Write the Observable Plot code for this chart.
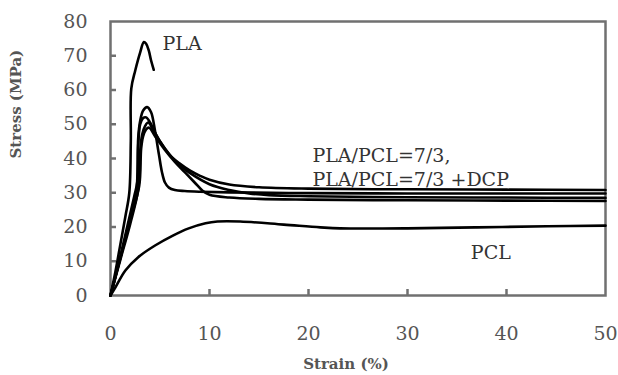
<!DOCTYPE html>
<html>
<head>
<meta charset="utf-8">
<script src="https://cdn.jsdelivr.net/npm/d3@7"></script>
<script src="https://cdn.jsdelivr.net/npm/@observablehq/plot@0.6"></script>
<style>
  html, body { margin: 0; padding: 0; background: #fff; }
  #chart { width: 618px; height: 375px; }
</style>
</head>
<body>
<div id="chart"></div>
<script>
// ---- Data ----
const xTicks = [0, 10, 20, 30, 40, 50];
const yTicks = [0, 10, 20, 30, 40, 50, 60, 70, 80];

const plaStrain = [0, 0.5, 1.0, 1.5, 1.9, 2.05, 2.1, 2.5, 3.0, 3.37, 3.6, 3.87, 4.1, 4.37];
const plaStress = [0, 7, 15, 23, 30, 45, 60.4, 65.7, 71, 74, 73.5, 71.5, 68.6, 65.9];

const b1Strain = [0, 0.8, 1.6, 2.4, 2.7, 2.8, 3.0, 3.3, 3.7, 4.1, 4.5, 4.9, 5.2, 5.5, 5.9, 6.5, 7.5, 9, 12, 20, 30, 40, 50];
const b1Stress = [0, 9, 19, 29, 33, 46, 51, 54, 55, 53.5, 48, 41, 36, 33, 31.5, 30.8, 30.5, 30.3, 30.1, 29.9, 29.8, 29.8, 29.8];

const b2Strain = [0, 0.9, 1.8, 2.6, 2.8, 3.0, 3.3, 3.6, 4.0, 4.5, 5, 6, 7, 8, 9, 10, 12, 15, 20, 30, 40, 50];
const b2Stress = [0, 10, 20, 30, 44, 50, 51.8, 52, 50.5, 47.5, 45, 41, 38.5, 36.5, 35, 33.8, 32.4, 31.6, 31.2, 31, 30.9, 30.8];

const b3Strain = [0, 1.0, 2.0, 2.8, 3.0, 3.2, 3.5, 3.8, 4.3, 5, 6, 7, 8, 10, 12, 14, 16, 20, 30, 40, 50];
const b3Stress = [0, 10.5, 21, 31, 42, 47, 49.5, 50.5, 48.5, 45, 41, 38, 35.8, 32.5, 30.8, 29.8, 29.3, 29, 28.7, 28.6, 28.5];

const b4Strain = [0, 1.0, 2.0, 2.9, 3.1, 3.3, 3.6, 3.9, 4.5, 5.5, 6.5, 7.5, 8.5, 9.3, 10, 12, 15, 20, 30, 40, 50];
const b4Stress = [0, 11, 22, 32, 43, 46.5, 48.5, 49, 46.5, 42.5, 39, 36, 33, 30.6, 29.4, 28.6, 28.2, 28, 27.8, 27.7, 27.6];

const pclStrain = [0, 0.5, 1.5, 2.8, 4.5, 6.3, 7.9, 9.6, 10.8, 13.1, 17.5, 21.2, 23.2, 30, 37, 44.1, 50];
const pclStress = [0, 2.4, 7.3, 11.2, 14.6, 17.5, 19.6, 21.1, 21.6, 21.6, 20.7, 19.9, 19.6, 19.6, 19.9, 20.2, 20.4];

const seriesNames = ["PLA", "Blend A", "Blend B", "Blend C", "Blend D", "PCL"];
const labelTexts = ["PLA", "PLA/PCL=7/3,\nPLA/PCL=7/3 +DCP", "PCL"];
const labelX = [5.25, 20.4, 36.4];
const labelY = [73.9, 37.8, 13.1];

// ---- Build table ----
const seriesArrays = [
  [plaStrain, plaStress], [b1Strain, b1Stress], [b2Strain, b2Stress],
  [b3Strain, b3Stress], [b4Strain, b4Stress], [pclStrain, pclStress]
];
const rows = [];
seriesArrays.forEach(([xs, ys], i) => {
  xs.forEach((x, j) => rows.push({series: seriesNames[i], strain: x, stress: ys[j]}));
});
const labels = labelTexts.map((t, i) => ({text: t, x: labelX[i], y: labelY[i]}));

const serif = "'DejaVu Serif', serif";
const tickLen = 6;
const gray = "#707070";

const chart = Plot.plot({
  width: 618, height: 375,
  marginLeft: 110, marginRight: 13, marginTop: 21, marginBottom: 80,
  style: {fontFamily: serif, background: "#fff"},
  x: {domain: [xTicks[0], xTicks[xTicks.length - 1]]},
  y: {domain: [yTicks[0], yTicks[yTicks.length - 1]]},
  marks: [
    Plot.axisX(xTicks, {tickSize: 0, tickPadding: 31, fontSize: 19, fill: "#555", label: null}),
    Plot.axisY(yTicks, {tickSize: 0, tickPadding: 23, fontSize: 19, fill: "#555", label: null}),
    // inward ticks (outward ticks shifted into the frame)
    Plot.axisX(xTicks.slice(1, -1), {tickSize: tickLen, tickFormat: () => "", dy: -tickLen, stroke: gray, strokeWidth: 2.5, label: null}),
    Plot.axisY(yTicks.slice(1, -1), {tickSize: tickLen, tickFormat: () => "", dx: tickLen, stroke: gray, strokeWidth: 2.5, label: null}),
    Plot.frame({stroke: gray, strokeWidth: 2.5}),
    Plot.line(rows, {x: "strain", y: "stress", z: "series", stroke: "#000", strokeWidth: 2.6, curve: "catmull-rom"}),
    Plot.text(labels, {x: "x", y: "y", text: "text", textAnchor: "start", lineAnchor: "middle", lineHeight: 1.3, fontSize: 19, fill: "#333", fontFamily: serif}),
    // axis titles
    Plot.text(["Stress (MPa)"], {frameAnchor: "left", dx: -94, rotate: -90, fontSize: 15, fontWeight: "bold", fill: "#555", fontFamily: serif}),
    Plot.text(["Strain (%)"], {frameAnchor: "bottom", dx: -12, dy: 73, fontSize: 15, fontWeight: "bold", fill: "#555", fontFamily: serif})
  ]
});
document.getElementById("chart").appendChild(chart);
</script>
</body>
</html>
